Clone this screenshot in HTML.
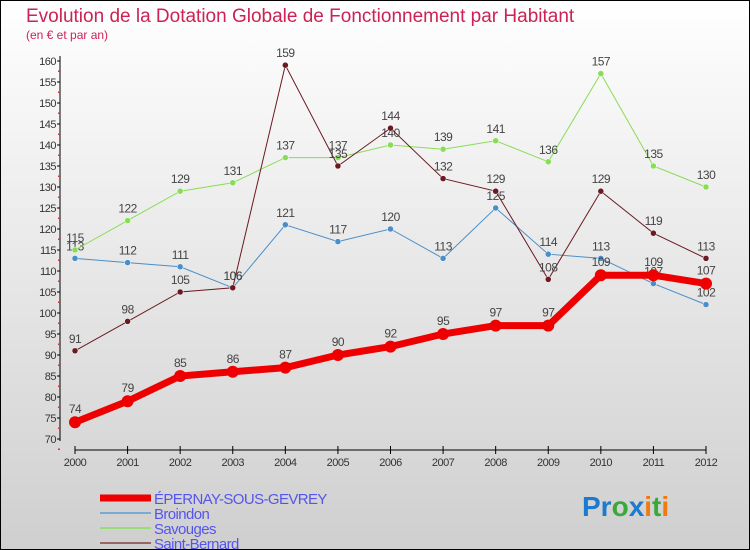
<!DOCTYPE html>
<html><head><meta charset="utf-8"><style>
body{margin:0}
svg{display:block;font-family:"Liberation Sans",sans-serif}
</style></head><body>
<svg width="750" height="550" viewBox="0 0 750 550" id="c">
<defs><linearGradient id="bg" x1="0" y1="0" x2="0" y2="1"><stop offset="0" stop-color="#ffffff"/><stop offset="1" stop-color="#cfcfcf"/></linearGradient></defs>
<rect x="0.5" y="0.5" width="749" height="549" fill="url(#bg)" stroke="#000"/>
<text x="26" y="22" font-size="19" fill="#cc2255">Evolution de la Dotation Globale de Fonctionnement par Habitant</text>
<text x="26" y="39" font-size="12" fill="#cc2255">(en € et par an)</text>
<g id="axes"></g><g id="series"></g><g id="legend"></g>
<text x="582" y="516" font-size="28" font-weight="bold"><tspan fill="#1a7bd0">Pr</tspan><tspan fill="#3aa83a">o</tspan><tspan fill="#1a7bd0">x</tspan><tspan fill="#f07a10">i</tspan><tspan fill="#3aa83a">t</tspan><tspan fill="#f07a10">i</tspan></text>
</svg>
<script>
const years=[2000,2001,2002,2003,2004,2005,2006,2007,2008,2009,2010,2011,2012];
const yTicks=[70,75,80,85,90,95,100,105,110,115,120,125,130,135,140,145,150,155,160];
const epernay=[74,79,85,86,87,90,92,95,97,97,109,109,107];
const broindon=[113,112,111,106,121,117,120,113,125,114,113,107,102];
const savouges=[115,122,129,131,137,137,140,139,141,136,157,135,130];
const saintBernard=[91,98,105,106,159,135,144,132,129,108,129,119,113];
const NS="http://www.w3.org/2000/svg";
const X=i=>75+i*(706-75)/(years.length-1);
const Y=v=>439-(v-70)*(439-61)/90;
function mk(tag,at,parent){const e=document.createElementNS(NS,tag);for(const k in at)e.setAttribute(k,at[k]);parent.appendChild(e);return e;}
const ax=document.getElementById('axes');
let yl=mk('line',{x1:60,y1:56,x2:60,y2:441,stroke:'#000'},ax);


let xl=mk('line',{x1:75,y1:450,x2:706,y2:450,stroke:'#000'},ax);


yTicks.forEach(v=>{mk('line',{x1:57,x2:60,y1:Y(v),y2:Y(v),stroke:'#000'},ax);
 mk('rect',{x:58,y:Y(v)+9.5,width:2,height:1.5,fill:'#e03030'},ax);
 const t=mk('text',{x:56,y:Y(v)+4,'font-size':11,fill:'#333','text-anchor':'end','letter-spacing':'-0.5'},ax);t.textContent=v;
 
 });
years.forEach((y,i)=>{mk('line',{x1:X(i),x2:X(i),y1:446,y2:454,stroke:'#000'},ax);
 const t=mk('text',{x:X(i),y:466,'font-size':11,fill:'#333','text-anchor':'middle','letter-spacing':'-0.5'},ax);t.textContent=y;
 
 });
const sg=document.getElementById('series');
const series=[
 {name:'broindon',d:broindon,c:'#4a8ec8',w:1,r:3},
 {name:'savouges',d:savouges,c:'#88dd55',w:1,r:3},
 {name:'saint-bernard',d:saintBernard,c:'#6a1a20',w:1,r:3},
 {name:'epernay',d:epernay,c:'#ee0000',w:7,r:6}];
series.forEach(s=>{
 const g=mk('g',{},sg);
 
 
 mk('polyline',{points:s.d.map((v,i)=>X(i)+','+Y(v)).join(' '),fill:'none',stroke:s.c,'stroke-width':s.w},g);
 s.d.forEach((v,i)=>{const p=mk('circle',{cx:X(i),cy:Y(v),r:s.r,fill:s.c,stroke:s.w>1?'none':'#fff','stroke-width':0.5},g);
  
  
  const t=mk('text',{x:X(i),y:Y(v)-(s.w>1?9:8),'font-size':12,fill:'#444','text-anchor':'middle','letter-spacing':'-0.5'},g);t.textContent=v;
  
  });
});
const lg=document.getElementById('legend');
const leg=[['ÉPERNAY-SOUS-GEVREY','#ee0000',7],['Broindon','#7aaad0',2],['Savouges','#99dd77',2],['Saint-Bernard','#996666',2]];
leg.forEach((l,i)=>{const y=494+i*15;
 const g=mk('g',{},lg);
 
 
 mk('line',{x1:100,x2:151,y1:y+4,y2:y+4,stroke:l[1],'stroke-width':l[2]},g);
 const t=mk('text',{x:154,y:y+10,'font-size':15,fill:'#5555ee','letter-spacing':'-0.6'},g);t.textContent=l[0];});
</script>
</body></html>
